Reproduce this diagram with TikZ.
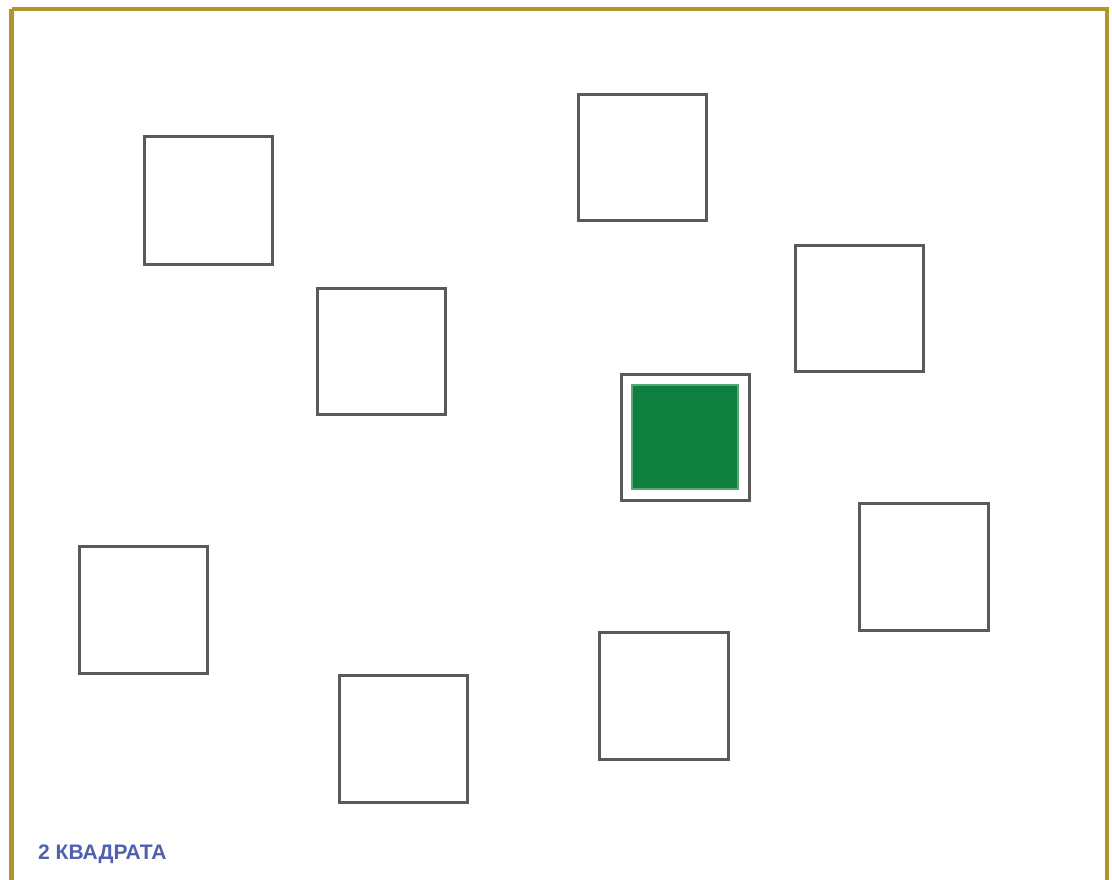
\documentclass[tikz,border=0pt]{standalone}
\usepackage{fontspec}
\setmainfont{Liberation Sans}
\definecolor{frame}{HTML}{B0962A}
\definecolor{boxline}{HTML}{5A5A5A}
\definecolor{fillgreen}{HTML}{0F7F40}
\definecolor{lbl}{HTML}{5060B0}
\tikzset{
  sq/.style={draw=boxline, line width=3pt, fill=white},
  greensq/.style={draw=fillgreen!70!white, line width=1.5pt, fill=fillgreen},
}
\begin{document}
\begin{tikzpicture}[x=1pt,y=-1pt]
\useasboundingbox (0,0) rectangle (1112,879);
\fill[white] (0,0) rectangle (1112,879);
\draw[frame, line width=4.5pt] (11.5,9) -- (1107,9) -- (1107,885) (11.5,885) -- (11.5,9);
\draw[sq] (144,136) rectangle (272,264);
\draw[sq] (578,94) rectangle (706,220);
\draw[sq] (317,288) rectangle (445,414);
\draw[sq] (795,245) rectangle (923,371);
\draw[sq] (621,374) rectangle (749,500);
\draw[greensq] (632,385) rectangle (738,489);
\draw[sq] (859,503) rectangle (988,630);
\draw[sq] (79,546) rectangle (207,673);
\draw[sq] (599,632) rectangle (728,759);
\draw[sq] (339,675) rectangle (467,802);
\node[anchor=base west, inner sep=0pt, text=lbl, font=\bfseries\fontsize{21}{24}\selectfont] (lab) at (38,859) {2 КВАДРАТА};
\end{tikzpicture}
\end{document}
